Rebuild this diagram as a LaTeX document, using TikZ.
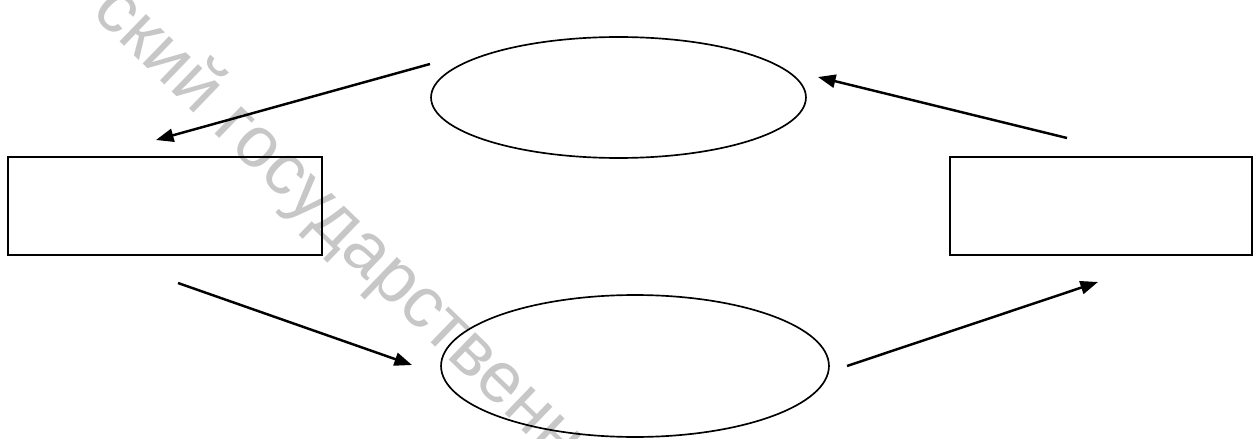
\documentclass[tikz,border=0pt]{standalone}
\usepackage{fontspec}
\newfontfamily\wmfont{Liberation Sans}
\usetikzlibrary{shapes.geometric,arrows.meta}
\begin{document}
\begin{tikzpicture}[
  x=0.02cm, y=-0.02cm,
  box/.style={draw, rectangle, line width=0.95pt, inner sep=0pt},
  oval/.style={draw, ellipse, line width=0.95pt, inner sep=0pt},
  arr/.style={line width=1.4pt, -{Triangle[length=10pt, width=7.5pt]}},
  wm/.style={text=black!22, font=\wmfont\fontsize{41}{41}\selectfont, rotate=-44, inner sep=0pt}
]
  \useasboundingbox (0,0) rectangle (1255,439);

  % Watermark
  \node[wm] (stamp) at (338,226) {ский государственн};

  % Ellipses
  \node[oval, minimum width=7.5cm, minimum height=2.42cm] (upper) at (618.5,97.5) {};
  \node[oval, minimum width=7.76cm, minimum height=2.84cm] (lower) at (635,366) {};

  % Boxes
  \node[box, minimum width=6.28cm, minimum height=1.96cm] (left) at (165,206) {};
  \node[box, minimum width=6.04cm, minimum height=1.96cm] (right) at (1101,206) {};

  % Arrow ends
  \coordinate (a1s) at (430,64);    \coordinate (a1e) at (156,140);
  \coordinate (a2s) at (1067,138);  \coordinate (a2e) at (818,77);
  \coordinate (a3s) at (178,283);   \coordinate (a3e) at (412,365);
  \coordinate (a4s) at (847,366);   \coordinate (a4e) at (1098,282);

  % Draw arrows
  \draw[arr] (a1s) -- (a1e);
  \draw[arr] (a2s) -- (a2e);
  \draw[arr] (a3s) -- (a3e);
  \draw[arr] (a4s) -- (a4e);

\end{tikzpicture}
\end{document}
